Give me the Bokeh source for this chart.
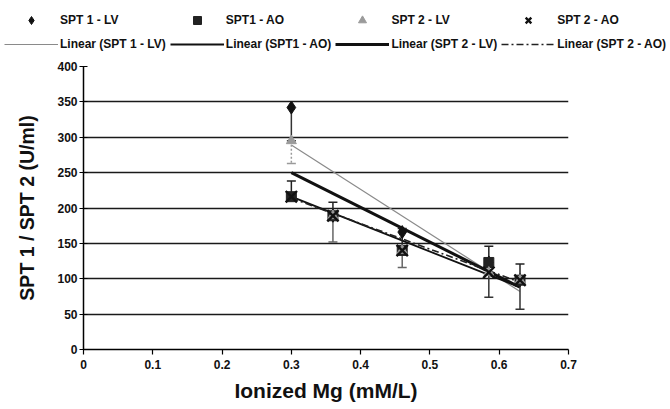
import numpy as np
from bokeh.plotting import figure
from bokeh.layouts import column, row
from bokeh.models import Legend, LegendItem, Range1d, FixedTicker
from bokeh.embed import file_html
from bokeh.resources import INLINE

nan = np.nan

# ---- data ----
ionized_mg = [0.30, 0.36, 0.46, 0.585, 0.63]
spt1_lv = [342, 189, 166, 123, 98]
spt1_ao = [216, 189, 140, 123, 98]
spt2_lv = [295, 189, 140, 109, 98]
spt2_ao = [216, 189, 140, 109, 98]

# error-bar ends (nan = not drawn / hidden)
spt1_lv_lower = [295, nan, nan, nan, nan]
spt1_ao_upper = [238, 208, 171, 146, nan]
spt1_ao_lower = [nan, 152, 116, nan, nan]
spt2_lv_lower = [263, nan, nan, nan, nan]
spt2_ao_upper = [nan, nan, nan, nan, 121]
spt2_ao_lower = [nan, nan, nan, 74, 57]

# linear trend lines (start / end values at the series' x extent)
trend_x = [0.30, 0.63]
trend_spt1_lv = [289, 82]
trend_spt1_ao = [216, 88]
trend_spt2_lv = [250, 88]
trend_spt2_ao = [214, 95]

series_labels = ["SPT 1 - LV", "SPT1 - AO", "SPT 2 - LV", "SPT 2 - AO"]
trend_labels = ["Linear (SPT 1 - LV)", "Linear (SPT1 - AO)",
                "Linear (SPT 2 - LV)", "Linear (SPT 2 - AO)"]

y_ticks = [0, 50, 100, 150, 200, 250, 300, 350, 400]
x_ticks = [0, 0.1, 0.2, 0.3, 0.4, 0.5, 0.6, 0.7]
x_tick_labels = {0: "0", 0.1: "0.1", 0.2: "0.2", 0.3: "0.3", 0.4: "0.4",
                 0.5: "0.5", 0.6: "0.6", 0.7: "0.7"}

FONT = "Liberation Sans"

# styles
MARKERS = [
    dict(marker="diamond", size=13, fill_color="#111", line_color="#111"),
    dict(marker="square", size=10, fill_color="#222", line_color="#222"),
    dict(marker="triangle", size=10, fill_color="#9a9a9a", line_color="#9a9a9a"),
    dict(marker="x", size=16, line_color="#111", line_width=2.4),
]
LINES = [
    dict(line_color="#8a8a8a", line_width=1.2),
    dict(line_color="#111", line_width=1.8),
    dict(line_color="#111", line_width=3),
    dict(line_color="#222", line_width=1.6, line_dash="7 3 2 3"),
]

p = figure(width=670, height=353, x_range=Range1d(0, 0.7), y_range=Range1d(0, 400),
           output_backend="svg", toolbar_location=None,
           min_border_left=83, min_border_right=102, min_border_top=10,
           min_border_bottom=60)
p.outline_line_color = None
p.background_fill_color = "white"
p.border_fill_color = "white"

# grid
p.xgrid.visible = False
p.ygrid.ticker = FixedTicker(ticks=y_ticks)
p.ygrid.grid_line_color = "#1a1a1a"
p.ygrid.grid_line_width = 1.3

# axes
p.yaxis.ticker = FixedTicker(ticks=y_ticks)
p.xaxis.ticker = FixedTicker(ticks=x_ticks)
p.xaxis.major_label_overrides = x_tick_labels
for ax in (p.xaxis, p.yaxis):
    ax.axis_line_color = "black"
    ax.axis_line_width = 1.5
    ax.major_tick_line_color = "black"
    ax.major_tick_line_width = 1.2
    ax.minor_tick_line_color = None
    ax.major_label_text_font = FONT
    ax.major_label_text_font_style = "bold"
    ax.major_label_text_font_size = "12px"
    ax.major_label_text_color = "#111"
    ax.axis_label_text_font = FONT
    ax.axis_label_text_font_style = "bold"
    ax.axis_label_text_color = "#111"
p.yaxis.major_tick_in = 4
p.yaxis.major_tick_out = 4
p.yaxis.major_label_standoff = 2
p.xaxis.major_tick_in = 0
p.xaxis.major_tick_out = 5
p.xaxis.major_label_standoff = 5
p.xaxis.axis_label = "Ionized Mg (mM/L)"
p.xaxis.axis_label_text_font_size = "21px"
p.xaxis.axis_label_standoff = 7
p.yaxis.axis_label = "SPT 1 / SPT 2 (U/ml)"
p.yaxis.axis_label_text_font_size = "19.5px"
p.yaxis.axis_label_standoff = 16

trend_vals = [trend_spt1_lv, trend_spt1_ao, trend_spt2_lv, trend_spt2_ao]
series_vals = [spt1_lv, spt1_ao, spt2_lv, spt2_ao]

# trend lines
for vals, st in zip(trend_vals, LINES):
    p.line(trend_x, vals, **st)

# error bars
def errbar(vals, ends, color, dash="solid"):
    p.segment(x0=ionized_mg, y0=vals, x1=ionized_mg, y1=ends,
              line_color=color, line_width=1.5, line_dash=dash)
    p.scatter(ionized_mg, ends, marker="dash", size=9, line_color=color,
              line_width=1.5)

errbar(spt2_lv, spt2_lv_lower, "#9a9a9a", "2 2")
errbar(spt1_lv, spt1_lv_lower, "#333")
errbar(spt1_ao, spt1_ao_upper, "#222")
errbar(spt1_ao, spt1_ao_lower, "#666")
errbar(spt2_ao, spt2_ao_upper, "#222")
errbar(spt2_ao, spt2_ao_lower, "#333")

# markers
for vals, st in zip(series_vals, MARKERS):
    p.scatter(ionized_mg, vals, **st)

# ---- legend strip on top (its own renderers are out of view) ----
lf = figure(width=670, height=56, x_range=Range1d(0, 1), y_range=Range1d(-2000, -1000),
            output_backend="svg", toolbar_location=None,
            min_border_left=0, min_border_right=0, min_border_top=0,
            min_border_bottom=0)
lf.outline_line_color = None
lf.axis.visible = False
lf.grid.visible = False
items = []
for lab, vals, st in zip(series_labels, series_vals, MARKERS):
    r = lf.scatter(ionized_mg, vals, **st)
    items.append(LegendItem(label=lab, renderers=[r]))
for lab, vals, st in zip(trend_labels, trend_vals, LINES):
    r = lf.line(trend_x, vals, **st)
    items.append(LegendItem(label=lab, renderers=[r]))

legend = Legend(items=items, orientation="horizontal", ncols=4, location=(4, 2))
legend.padding = 0
legend.margin = 0
legend.spacing = 4
legend.glyph_width = 54
legend.glyph_height = 20
legend.label_height = 20
legend.label_width = 105
legend.label_standoff = 2
legend.label_text_font = FONT
legend.label_text_font_style = "bold"
legend.label_text_font_size = "12px"
legend.label_text_color = "#111"
legend.border_line_color = None
legend.background_fill_alpha = 0
lf.add_layout(legend)

layout = column(row(lf), p, spacing=0)
open("out.html", "w").write(file_html(layout, INLINE))
